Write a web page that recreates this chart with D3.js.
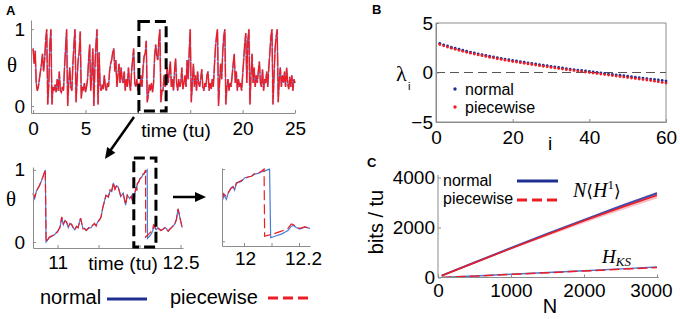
<!DOCTYPE html>
<html><head><meta charset="utf-8">
<script src="https://cdn.jsdelivr.net/npm/d3@7"></script>
<style>
body{margin:0;background:#fff;}
svg{display:block;font-family:"Liberation Sans",Arial,Helvetica,sans-serif;}
</style></head><body>
<svg id="c" width="680" height="319"></svg>
<script>
// ================= DATA =================
// Panel A (top): theta over 0..25 tu, sampled every 0.1 tu
const topStart = 0, topStep = 0.1;
const topTheta = [
0.75,0.55,0.72,0.30,0.20,0.25,0.35,0.45,0.55,0.68,
0.45,0.60,0.85,1.00,0.02,0.30,0.80,1.00,0.02,0.25,
0.20,0.28,0.18,0.35,0.20,0.45,0.20,0.18,0.25,0.20,
0.50,0.75,1.00,0.00,0.30,0.50,0.25,0.20,0.55,0.80,
1.00,0.05,0.35,0.60,0.70,0.97,0.10,0.25,0.20,0.30,
0.18,0.25,0.35,0.60,0.80,0.20,0.40,0.75,0.00,0.50,
0.80,1.00,0.02,0.70,0.25,0.20,0.28,0.22,0.40,0.25,
0.20,0.30,0.25,0.45,0.55,0.60,0.70,0.75,0.45,0.60,
0.25,0.40,0.55,0.30,0.50,0.35,0.30,0.45,0.20,0.35,
0.25,0.50,0.30,0.20,0.45,0.60,0.75,0.30,0.25,0.35,
0.20,0.30,0.25,0.40,0.25,0.50,0.65,0.68,0.85,0.05,
0.15,0.28,0.20,0.30,0.18,0.30,0.65,0.80,0.65,0.60,
0.85,1.00,0.05,0.20,0.20,0.40,0.25,0.30,0.50,0.30,
0.45,0.58,0.25,0.35,0.20,0.45,0.62,0.30,0.20,0.35,
0.25,0.30,0.50,0.22,0.30,0.40,0.25,0.60,0.35,0.70,
1.00,0.05,0.30,0.55,0.25,0.40,0.20,0.45,0.30,0.25,
0.35,0.48,0.25,0.20,0.30,0.25,0.40,0.45,0.20,0.30,
0.22,0.35,0.25,0.50,0.75,0.90,1.00,0.00,0.30,0.55,
0.35,0.70,0.90,1.00,0.02,0.25,0.35,0.20,0.30,0.25,
0.40,0.55,0.68,0.30,0.45,0.20,0.35,0.25,0.30,0.20,
0.40,0.60,0.80,0.95,0.30,0.85,1.00,0.02,0.40,0.68,
0.30,0.50,0.25,0.40,0.30,0.45,0.58,0.30,0.25,0.48,
0.20,0.35,0.30,0.45,0.25,0.50,0.70,0.90,1.00,0.02,
0.40,0.75,0.90,1.00,0.05,0.35,0.50,0.25,0.40,0.30,
0.45,0.25,0.50,0.30,0.22,0.38,0.25,0.40,0.20,0.35,
0.30];
const topXTicks = [0,5,10,15,20,25];
const topXLabels = [0,5,20,25];
const thetaTicks = [0,1];
const zoomWindow = [10.1, 12.7];

// Panel A (zoomed): detailed traces
const zoomTimes = [10.70,10.72,10.74,10.78,10.82,10.85,10.86,10.90,10.96,11.00,11.03,11.05,11.07,11.09,11.11,11.13,11.15,11.17,11.19,11.21,11.23,11.25,11.28,11.31,11.33,11.35,11.38,11.41,11.43,11.45,11.47,11.49,11.51,11.53,11.55,11.59,11.62,11.64,11.66,11.68,11.70,11.72,11.74,11.77,11.80,11.83,11.85,11.88,11.90,11.92,11.926,11.936,11.942,11.952,11.960,11.966,11.972,11.981,11.990,12.003,12.015,12.027,12.039,12.051,12.063,12.073,12.075,12.093,12.097,12.105,12.120,12.136,12.150,12.160,12.172,12.180,12.190,12.202,12.212,12.221,12.230,12.239,12.26,12.29,12.31,12.33,12.35,12.37,12.39,12.41,12.43,12.45,12.47,12.49,12.52];
const zoomNormal = [0.66,0.60,0.70,0.78,0.90,1.00,0.00,0.06,0.10,0.15,0.20,0.34,0.24,0.30,0.27,0.20,0.26,0.24,0.20,0.17,0.22,0.20,0.33,0.18,0.19,0.16,0.19,0.20,0.24,0.25,0.23,0.28,0.30,0.35,0.47,0.65,0.62,0.72,0.70,0.82,0.74,0.78,0.76,0.63,0.68,0.51,0.65,0.60,0.64,0.53,0.65,0.58,0.66,0.74,0.76,0.71,0.81,0.82,0.83,0.88,0.89,0.90,0.93,0.94,0.96,0.97,0.975,1.00,0.05,0.06,0.08,0.10,0.13,0.15,0.21,0.22,0.19,0.17,0.18,0.20,0.19,0.18,0.16,0.18,0.20,0.18,0.15,0.18,0.20,0.22,0.25,0.32,0.46,0.35,0.20];
const zoomPiecewise = [0.68,0.62,0.70,0.79,0.90,1.00,0.00,0.07,0.10,0.14,0.21,0.35,0.25,0.29,0.28,0.21,0.25,0.25,0.20,0.17,0.21,0.20,0.33,0.19,0.18,0.16,0.20,0.21,0.23,0.26,0.22,0.28,0.31,0.34,0.47,0.64,0.63,0.72,0.71,0.82,0.73,0.78,0.76,0.64,0.67,0.52,0.65,0.61,0.63,0.55,0.66,0.62,0.67,0.73,0.75,0.72,0.80,0.82,0.84,0.87,0.89,0.90,0.94,0.94,0.97,1.00,0.07,0.09,0.095,0.10,0.12,0.14,0.16,0.18,0.24,0.23,0.20,0.18,0.19,0.20,0.19,0.18,0.16,0.18,0.20,0.17,0.15,0.18,0.20,0.23,0.25,0.31,0.46,0.35,0.20];
const midXTicks = [11,11.5,12,12.5];
const midXLabels = [11,12.5];
const detailWindow = [11.93, 12.2];
const detXTicks = [12,12.1,12.2];
const detXLabels = [12,12.2];

// Panel B: Lyapunov spectrum
const lamNormal = [2.95,2.80,2.68,2.56,2.45,2.35,2.25,2.15,2.06,1.97,1.89,1.81,1.73,1.65,1.58,1.50,1.43,1.36,1.29,1.22,1.16,1.10,1.04,0.98,0.92,0.86,0.80,0.74,0.68,0.62,0.57,0.51,0.46,0.40,0.35,0.30,0.25,0.20,0.15,0.10,0.05,0.00,-0.05,-0.10,-0.14,-0.19,-0.24,-0.28,-0.33,-0.38,-0.42,-0.47,-0.52,-0.56,-0.61,-0.66,-0.70,-0.75,-0.80,-0.87];
const lamPiecewise = [2.83,2.69,2.57,2.45,2.34,2.24,2.14,2.04,1.95,1.86,1.78,1.70,1.62,1.54,1.47,1.39,1.32,1.25,1.18,1.11,1.05,0.99,0.93,0.87,0.81,0.75,0.69,0.63,0.57,0.51,0.46,0.40,0.35,0.29,0.24,0.19,0.14,0.09,0.04,-0.01,-0.06,-0.11,-0.16,-0.21,-0.26,-0.31,-0.36,-0.41,-0.46,-0.51,-0.56,-0.61,-0.66,-0.71,-0.76,-0.82,-0.88,-0.94,-1.00,-1.07];
const bXTicks = [0,20,40,60];
const bYTicks = [-5,0,5];

// Panel C: entropy rates
const cN = [50,500,1000,1500,2000,2500,3000];
const h1Normal = [75,600,1180,1750,2300,2850,3370];
const h1Piecewise = [70,590,1165,1720,2270,2790,3290];
const h1Spread = [10,30,50,70,90,110,130];
const hksNormal = [5,60,130,200,270,345,420];
const hksPiecewise = [5,55,125,190,260,330,400];
const cXTicks = [0,1000,2000,3000];
const cYTicks = [0,2000,4000];

// ================= DRAW =================
const svg = d3.select("#c");
const RED="#ee1c24", BLUE="#4a7bd6", NAVY="#1f2f91", AX="#8c8c8c", PINK="#f6a3aa";
const SANS='"Liberation Sans",Arial,Helvetica,sans-serif';
const SERIF='"Liberation Serif","DejaVu Serif",serif';
const plain = d => (d<0 ? "\u2212"+(-d) : String(d));

function styleAxis(g, fs){
  g.select(".domain").attr("stroke",AX).attr("stroke-width",1);
  g.selectAll(".tick line").attr("stroke",AX);
  g.selectAll(".tick text").attr("fill","#000").style("font-size",fs+"px").style("font-family",SANS);
}
function panelLabel(t,x,y){
  svg.append("text").attr("x",x).attr("y",y).text(t).style("font-weight","bold").style("font-size","13px");
}
function arrowHead(x,y,ang,len,w){
  const c=Math.cos(ang), s=Math.sin(ang);
  const bx=x-len*c, by=y-len*s;
  const p=[[x,y],[bx-w/2*s,by+w/2*c],[bx+w/2*s,by-w/2*c]];
  svg.append("path").attr("d","M"+p.map(d=>d.join(",")).join("L")+"Z").attr("fill","#000");
}

// ---------- Panel A top ----------
panelLabel("A",6,15);
const xA = d3.scaleLinear().domain([-0.2,25]).range([31,295]);
const yA = d3.scaleLinear().domain([-0.09,1.12]).range([113,20]);
const topData = topTheta.map((v,i)=>[topStart+i*topStep,v]);
const lineA = d3.line().x(d=>xA(d[0])).y(d=>yA(d[1]));
svg.append("path").datum(topData).attr("d",lineA).attr("fill","none").attr("stroke",PINK).attr("stroke-width",2.4).attr("opacity",0.35);
svg.append("path").datum(topData).attr("d",lineA).attr("fill","none").attr("stroke",BLUE).attr("stroke-width",1.1);
svg.append("path").datum(topData).attr("d",lineA).attr("fill","none").attr("stroke",RED).attr("stroke-width",1.3).attr("stroke-dasharray","14,1.5");

let g = svg.append("g").attr("transform","translate(0,113)")
  .call(d3.axisBottom(xA).tickValues(topXTicks).tickSizeInner(-3).tickSizeOuter(0).tickPadding(9)
  .tickFormat(d=>topXLabels.includes(d)?plain(d):""));
styleAxis(g,19);
g = svg.append("g").attr("transform","translate(31,0)")
  .call(d3.axisLeft(yA).tickValues(thetaTicks).tickSizeInner(-3).tickSizeOuter(0).tickPadding(6).tickFormat(plain));
styleAxis(g,19);
svg.append("text").attr("x",12).attr("y",72).attr("text-anchor","middle").style("font-family",SERIF).style("font-size","21px").text("θ");
svg.append("text").attr("x",176).attr("y",137).attr("text-anchor","middle").style("font-size","19px").text("time (tu)");
// dashed zoom box
svg.append("rect").attr("x",xA(zoomWindow[0])).attr("y",yA(1.10)).attr("width",xA(zoomWindow[1])-xA(zoomWindow[0])).attr("height",yA(-0.065)-yA(1.10))
  .attr("fill","none").attr("stroke","#000").attr("stroke-width",3).attr("stroke-dasharray","11,5");
// arrow 1
svg.append("line").attr("x1",134).attr("y1",117).attr("x2",110).attr("y2",151).attr("stroke","#000").attr("stroke-width",2.5);
arrowHead(105,159,Math.atan2(159-117,105-134),11,10);

// ---------- Panel A middle (zoom) ----------
const xL = d3.scaleLinear().domain([10.7,12.53]).range([33,183]);
const yL = d3.scaleLinear().domain([-0.083,1.04]).range([248,167]);
const zN = zoomTimes.map((t,i)=>[t,zoomNormal[i]]);
const zP = zoomTimes.map((t,i)=>[t,zoomPiecewise[i]]);
const lineL = d3.line().x(d=>xL(d[0])).y(d=>yL(d[1]));
svg.append("path").datum(zN).attr("d",lineL).attr("fill","none").attr("stroke",BLUE).attr("stroke-width",1.2);
svg.append("path").datum(zP).attr("d",lineL).attr("fill","none").attr("stroke",RED).attr("stroke-width",1.2).attr("stroke-dasharray","9,3");
g = svg.append("g").attr("transform","translate(0,248)")
  .call(d3.axisBottom(xL).tickValues(midXTicks).tickSizeInner(-3).tickSizeOuter(0).tickPadding(8)
  .tickFormat(d=>midXLabels.includes(d)?plain(d):""));
styleAxis(g,19);
g = svg.append("g").attr("transform","translate(33,0)")
  .call(d3.axisLeft(yL).tickValues(thetaTicks).tickSizeInner(-3).tickSizeOuter(0).tickPadding(8).tickFormat(plain));
styleAxis(g,19);
svg.append("text").attr("x",11).attr("y",206).attr("text-anchor","middle").style("font-family",SERIF).style("font-size","21px").text("θ");
svg.append("text").attr("x",123).attr("y",270).attr("text-anchor","middle").style("font-size","19px").text("time (tu)");
svg.append("rect").attr("x",xL(detailWindow[0])).attr("y",158).attr("width",xL(detailWindow[1])-xL(detailWindow[0])).attr("height",89)
  .attr("fill","none").attr("stroke","#000").attr("stroke-width",3).attr("stroke-dasharray","11,5");
// arrow 2
svg.append("line").attr("x1",173).attr("y1",197).attr("x2",196).attr("y2",197).attr("stroke","#000").attr("stroke-width",2.5);
arrowHead(206,197,0,11,10);

// ---------- Panel A right (detail) ----------
const xR = d3.scaleLinear().domain([11.92,12.24]).range([222,310]);
const yR = d3.scaleLinear().domain([-0.065,1.015]).range([246,168]);
svg.append("clipPath").attr("id","clipR").append("rect").attr("x",222).attr("y",160).attr("width",88).attr("height",90);
const lineR = d3.line().x(d=>xR(d[0])).y(d=>yR(d[1]));
const gr = svg.append("g").attr("clip-path","url(#clipR)");
gr.append("path").datum(zN).attr("d",lineR).attr("fill","none").attr("stroke",BLUE).attr("stroke-width",1.2);
gr.append("path").datum(zP).attr("d",lineR).attr("fill","none").attr("stroke",RED).attr("stroke-width",1.2).attr("stroke-dasharray","10,4");
g = svg.append("g").attr("transform","translate(0,246)")
  .call(d3.axisBottom(xR).tickValues(detXTicks).tickSizeInner(-3).tickSizeOuter(0).tickPadding(6)
  .tickFormat(d=>detXLabels.includes(d)?plain(d):""));
styleAxis(g,19);
g.selectAll(".tick text").attr("dx",d=>d===12.2?"4px":"1px");
g = svg.append("g").attr("transform","translate(222,0)")
  .call(d3.axisLeft(yR).tickValues(thetaTicks).tickSizeInner(-3).tickSizeOuter(0).tickFormat(""));
styleAxis(g,19);

// bottom legend
svg.append("text").attr("x",40).attr("y",304).style("font-size","20px").text("normal");
svg.append("line").attr("x1",107).attr("x2",147).attr("y1",299).attr("y2",299).attr("stroke",NAVY).attr("stroke-width",3);
svg.append("text").attr("x",170).attr("y",304).style("font-size","20px").text("piecewise");
svg.append("line").attr("x1",268).attr("x2",308).attr("y1",298).attr("y2",298).attr("stroke",RED).attr("stroke-width",3).attr("stroke-dasharray","10,5");

// ---------- Panel B ----------
panelLabel("B",372,14);
const xB = d3.scaleLinear().domain([0,60]).range([436,666]);
const yB = d3.scaleLinear().domain([-5,5]).range([122,23]);
svg.append("rect").attr("x",436).attr("y",23).attr("width",230).attr("height",99).attr("fill","none").attr("stroke",AX);
svg.append("line").attr("x1",xB(0)).attr("x2",xB(60)).attr("y1",yB(0)).attr("y2",yB(0)).attr("stroke","#555").attr("stroke-width",1.2).attr("stroke-dasharray","9,5");
g = svg.append("g").attr("transform","translate(0,122)")
  .call(d3.axisBottom(xB).tickValues(bXTicks).tickSizeInner(-3).tickSizeOuter(0).tickPadding(9).tickFormat(plain));
styleAxis(g,19);
g = svg.append("g").attr("transform","translate(436,0)")
  .call(d3.axisLeft(yB).tickValues(bYTicks).tickSizeInner(-3).tickSizeOuter(0).tickPadding(3).tickFormat(plain));
styleAxis(g,19);
svg.append("g").selectAll("circle").data(lamNormal).join("circle")
  .attr("cx",(d,i)=>xB(i+1)).attr("cy",d=>yB(d)).attr("r",1.4).attr("fill",NAVY);
svg.append("g").selectAll("circle").data(lamPiecewise).join("circle")
  .attr("cx",(d,i)=>xB(i+1)).attr("cy",d=>yB(d)).attr("r",1.4).attr("fill",RED);
svg.append("text").attr("x",396).attr("y",81).style("font-family",SERIF).style("font-size","22px").text("λ");
svg.append("text").attr("x",408).attr("y",90).style("font-size","11px").text("i");
svg.append("text").attr("x",550).attr("y",150).attr("text-anchor","middle").style("font-size","19px").text("i");
svg.append("circle").attr("cx",455).attr("cy",89).attr("r",1.7).attr("fill",NAVY);
svg.append("text").attr("x",465).attr("y",95).style("font-size","16px").text("normal");
svg.append("circle").attr("cx",455).attr("cy",107).attr("r",1.7).attr("fill",RED);
svg.append("text").attr("x",465).attr("y",113).style("font-size","16px").text("piecewise");

// ---------- Panel C ----------
panelLabel("C",367,167);
const xC = d3.scaleLinear().domain([0,3000]).range([438,657]);
const yC = d3.scaleLinear().domain([0,4000]).range([277.5,177.5]);
const idx = cN.map((n,i)=>i);
svg.append("path").datum(idx).attr("fill",PINK).attr("opacity",0.6)
  .attr("d",d3.area().x(i=>xC(cN[i])).y0(i=>yC(h1Normal[i]-h1Spread[i]*0.5)).y1(i=>yC(h1Normal[i]+h1Spread[i]*0.5)));
svg.append("path").datum(idx).attr("fill",PINK).attr("opacity",0.7)
  .attr("d",d3.area().x(i=>xC(cN[i])).y0(i=>yC(h1Piecewise[i]-h1Spread[i])).y1(i=>yC(h1Piecewise[i]+h1Spread[i]*0.5)));
const lc = (arr)=>d3.line().x(i=>xC(cN[i])).y(i=>yC(arr[i]));
svg.append("path").datum(idx).attr("d",lc(h1Normal)).attr("fill","none").attr("stroke","#3b4fb0").attr("stroke-width",2);
svg.append("path").datum(idx).attr("d",lc(h1Piecewise)).attr("fill","none").attr("stroke",RED).attr("stroke-width",1.5);
svg.append("path").datum(idx).attr("d",lc(hksNormal)).attr("fill","none").attr("stroke",BLUE).attr("stroke-width",1.5);
svg.append("path").datum(idx).attr("d",lc(hksPiecewise)).attr("fill","none").attr("stroke",RED).attr("stroke-width",1.5).attr("stroke-dasharray","10,4");
g = svg.append("g").attr("transform","translate(0,277.5)")
  .call(d3.axisBottom(xC).tickValues(cXTicks).tickSizeInner(-3).tickSizeOuter(0).tickPadding(6).tickFormat(plain));
styleAxis(g,19);
g.select(".domain").attr("d","M438,0H659");
g.selectAll(".tick text").attr("dx",d=>d===3000?"-6px":"0");
g = svg.append("g").attr("transform","translate(438,0)")
  .call(d3.axisLeft(yC).tickValues(cYTicks).tickSizeInner(-3).tickSizeOuter(0).tickPadding(3).tickFormat(plain));
styleAxis(g,19);
g.select(".domain").attr("d","M0,175V277.5");
svg.append("text").attr("transform","translate(383,222) rotate(-90)").attr("text-anchor","middle").style("font-size","20px").text("bits / tu");
svg.append("text").attr("x",550).attr("y",313).attr("text-anchor","middle").style("font-size","20px").text("N");
// legend
svg.append("text").attr("x",443).attr("y",186).style("font-size","16px").text("normal");
svg.append("line").attr("x1",517).attr("x2",558).attr("y1",181).attr("y2",181).attr("stroke",NAVY).attr("stroke-width",3);
svg.append("text").attr("x",443).attr("y",204).style("font-size","16px").text("piecewise");
svg.append("line").attr("x1",517).attr("x2",558).attr("y1",200).attr("y2",200).attr("stroke",RED).attr("stroke-width",3).attr("stroke-dasharray","10,5");
// math labels
const m1 = svg.append("text").attr("x",573).attr("y",197).style("font-family",SERIF).style("font-size","20px");
m1.append("tspan").style("font-style","italic").text("N");
m1.append("tspan").style("font-family","DejaVu Serif").style("font-size","17px").text("\u27E8");
m1.append("tspan").style("font-style","italic").text("H");
m1.append("tspan").attr("dy",-8).style("font-size","13px").text("1");
m1.append("tspan").attr("dy",8).style("font-family","DejaVu Serif").style("font-size","17px").text("\u27E9");
const m2 = svg.append("text").attr("x",602).attr("y",263).style("font-family",SERIF).style("font-size","19px");
m2.append("tspan").style("font-style","italic").text("H");
m2.append("tspan").attr("dy",3).style("font-style","italic").style("font-size","13px").text("KS");
</script>
</body></html>
